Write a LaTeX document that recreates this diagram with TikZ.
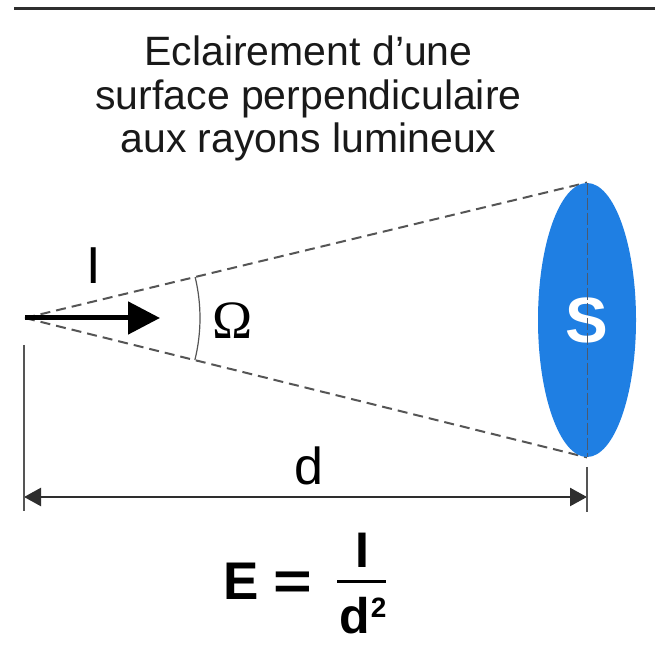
\documentclass[tikz,border=0pt]{standalone}
\usepackage{fontspec}
\setmainfont{Liberation Sans}
\newfontfamily\omegafont{Liberation Serif}
\usepackage{xcolor}
\definecolor{surfblue}{HTML}{1F7FE3}
\definecolor{rulegray}{HTML}{2E2E2E}
\definecolor{raygray}{HTML}{555555}
\definecolor{axisgray}{HTML}{4A5A70}
\usepackage{tikz}
\usetikzlibrary{arrows.meta,positioning,calc,shapes.geometric,backgrounds}

\tikzset{
  raydash/.style={draw=raygray, line width=1pt, dash pattern=on 5pt off 3pt},
  axisdash/.style={draw=axisgray, line width=0.5pt, dash pattern=on 6pt off 1.5pt},
  surfdisc/.style={ellipse, fill=surfblue, minimum width=49pt, minimum height=137pt,
    inner sep=0pt, text=white, font=\fontsize{32}{32}\selectfont\bfseries},
  bigtxt/.style={font=\fontsize{26}{26}\selectfont, inner sep=0pt, anchor=base},
  formtxt/.style={font=\fontsize{25}{25}\selectfont\bfseries, inner sep=0pt, anchor=base},
  srcarrow/.style={draw=black, line width=2.5pt, -{Triangle[length=16pt,width=16pt]}},
  dimline/.style={draw=rulegray, line width=1.2pt,
    {Triangle[length=8.5pt,width=9pt]}-{Triangle[length=8.5pt,width=9pt]}},
  extline/.style={draw=raygray, line width=0.7pt},
  anglearc/.style={draw=raygray, line width=0.6pt},
}

\begin{document}
\begin{tikzpicture}[x=0.5pt,y=0.5pt]
  \useasboundingbox (0,0) rectangle (655,658);
  \draw[rulegray, line width=1.5pt] (14,649.5) -- (655,649.5);
  \node[font=\fontsize{20.5}{21.75}\selectfont, align=center, anchor=north, inner sep=0pt,
    text=black!90] (title) at (308.5,622.4)
    {Eclairement d’une\\surface perpendiculaire\\aux rayons lumineux};

  \coordinate (src) at (25,340);
  \coordinate (tip) at (160,340);
  \node[surfdisc] (surf) at (587,338) {S};
  \draw[axisdash] (surf.north) -- (surf.south);
  \begin{scope}[on background layer]
    \fill[white] (0,0) rectangle (655,658);
    \draw[raydash] (src) -- (surf.north);
    \draw[raydash] (src) -- (surf.south);
  \end{scope}

  \draw[srcarrow] (src) -- (tip);
  \node[bigtxt] (intens) at (94,374) {I};
  \draw[anglearc] ($(src)+(-13.9:175)$) arc[start angle=-13.9, end angle=13.5, radius=175];
  \node[bigtxt, font=\fontsize{27}{27}\selectfont\omegafont] (omega) at (233,319) {Ω};

  \coordinate (dl) at (24,161);
  \coordinate (dr) at (surf.south |- dl);
  \draw[dimline] (dl) -- (dr);
  \draw[extline] ($(dl)+(0,152)$) -- ($(dl)+(0,-14)$);
  \draw[extline] ($(dr)+(0,30)$) -- ($(dr)+(0,-15)$);
  \node[bigtxt] (dist) at (308.5,173) {d};

  \node[formtxt, font=\fontsize{26.5}{26.5}\selectfont\bfseries, anchor=base west] (lhs) at (223,58)
    {E\hspace{7.5pt}\scalebox{1.25}[1]{=}};
  \node[formtxt] (num) at (362,90) {I};
  \node[formtxt] (den) at (363,25) {d\hspace{0.5pt}\raisebox{7.6pt}{\fontsize{14}{14}\selectfont 2}};
  \draw[black, line width=1.5pt] (337,76) -- (386,76);
\end{tikzpicture}
\end{document}
